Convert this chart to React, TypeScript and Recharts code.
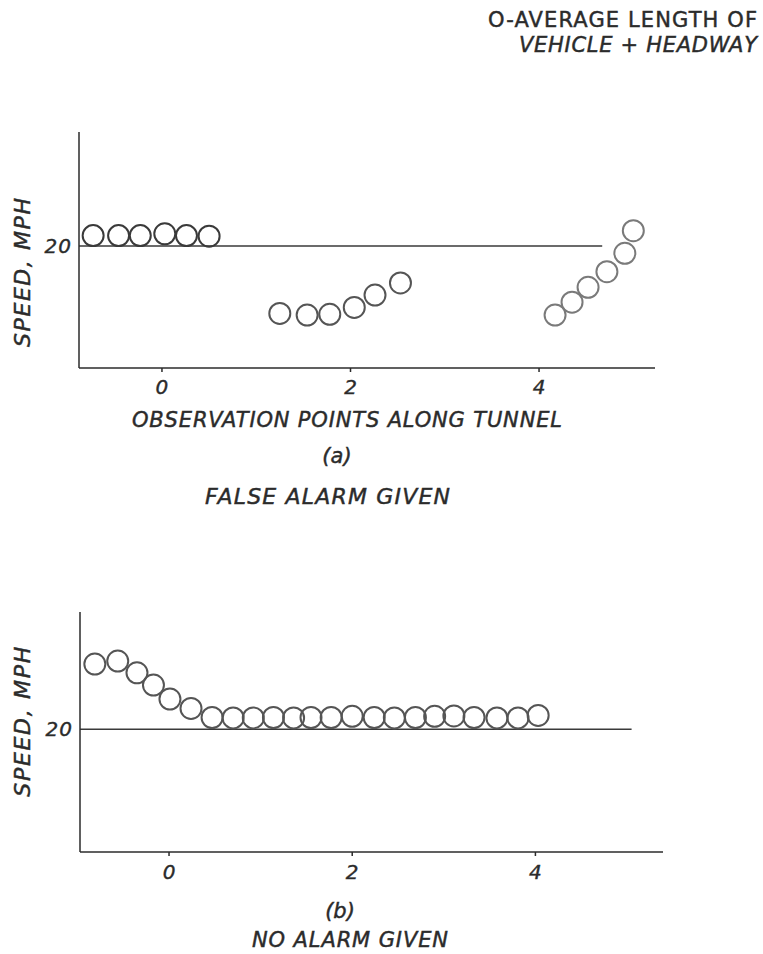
import { ScatterChart, Scatter, XAxis, YAxis, ReferenceLine } from 'recharts';

// (a) false alarm given: three bunches of readings along the tunnel
const entryPoints = [-0.73, -0.46, -0.23, 0.03, 0.26, 0.5];
const entrySpeed = [20.85, 20.85, 20.85, 21.0, 20.85, 20.8];
const middlePoints = [1.25, 1.54, 1.78, 2.04, 2.26, 2.53];
const middleSpeed = [14.47, 14.34, 14.4, 14.96, 15.98, 16.97];
const exitPoints = [4.17, 4.35, 4.52, 4.72, 4.91, 5.0];
const exitSpeed = [14.34, 15.39, 16.61, 17.89, 19.4, 21.25];

// (b) no alarm given
const noAlarmPoints = [
  -0.81, -0.56, -0.35, -0.17, 0.01, 0.24, 0.47, 0.7, 0.92, 1.14, 1.36, 1.55,
  1.77, 2.0, 2.24, 2.46, 2.69, 2.9, 3.11, 3.33, 3.58, 3.81, 4.03,
];
const noAlarmSpeed = [
  25.3, 25.55, 24.59, 23.59, 22.45, 21.69, 20.95, 20.92, 20.92, 20.95, 20.92, 20.95,
  20.95, 21.05, 20.95, 20.92, 20.95, 21.05, 21.08, 20.95, 20.92, 20.92, 21.12,
];

const xTicks = [0, 2, 4];
const speedTicks = [20];

const INK = '#2b2b2b';
const FONT = '"DejaVu Sans", sans-serif';

const zip = (xs: number[], ys: number[]) => xs.map((x, i) => ({ x, y: ys[i] }));

const ring = (stroke: string) => (p: any) => (
  <circle cx={p.cx} cy={p.cy} r={10.5} fill="none" stroke={stroke} strokeWidth={2} />
);

const speedTick = (p: any) => (
  <text x={p.x} y={p.y + 7} textAnchor="end" fontSize={20} fontStyle="italic" fill={INK}
    stroke={INK} strokeWidth={0.4} letterSpacing={1}>
    {p.payload.value}
  </text>
);

type Group = { data: { x: number; y: number }[]; stroke: string };

type PanelProps = {
  top: number;
  height: number;
  margin: { top: number; right: number; bottom: number; left: number };
  axisWidth: number;
  xDomain: [number, number];
  yDomain: [number, number];
  lineEnd: number;
  tickMargin: number;
  groups: Group[];
};

function Panel({ top, height, margin, axisWidth, xDomain, yDomain, lineEnd, tickMargin, groups }: PanelProps) {
  return (
    <div style={{ position: 'absolute', left: 0, top, width: 763, height }}>
      <ScatterChart width={763} height={height} margin={margin}>
        <XAxis
          type="number"
          dataKey="x"
          domain={xDomain}
          allowDataOverflow
          ticks={xTicks}
          height={30}
          tickSize={4}
          tickMargin={tickMargin}
          axisLine={{ stroke: INK, strokeWidth: 1.5 }}
          tickLine={{ stroke: INK, strokeWidth: 1.5 }}
          tick={{ fill: INK, stroke: INK, strokeWidth: 0.4, fontSize: 20, fontStyle: 'italic', fontFamily: FONT }}
        />
        <YAxis
          type="number"
          dataKey="y"
          domain={yDomain}
          allowDataOverflow
          ticks={speedTicks}
          width={axisWidth}
          tickLine={false}
          tickSize={0}
          tickMargin={7}
          axisLine={{ stroke: INK, strokeWidth: 1.5 }}
          tick={speedTick}
        />
        <ReferenceLine
          segment={[{ x: xDomain[0], y: 20 }, { x: lineEnd, y: 20 }]}
          stroke="#3a3a3a"
          strokeWidth={1.5}
        />
        {groups.map((g, i) => (
          <Scatter key={i} data={g.data} shape={ring(g.stroke)} isAnimationActive={false} />
        ))}
      </ScatterChart>
    </div>
  );
}

export default function App() {
  const text = { fill: INK, stroke: INK, strokeWidth: 0.45, fontFamily: FONT, fontStyle: 'italic' as const };
  return (
    <div style={{ position: 'absolute', left: 0, top: 0, width: 763, height: 954, background: '#fff', fontFamily: FONT }}>
      <Panel
        top={0}
        height={400}
        margin={{ top: 132, right: 108, bottom: 2, left: 0 }}
        axisWidth={79}
        xDomain={[-0.88, 5.23]}
        yDomain={[10, 29.34]}
        lineEnd={4.67}
        tickMargin={8}
        groups={[
          { data: zip(entryPoints, entrySpeed), stroke: '#3a3a3a' },
          { data: zip(middlePoints, middleSpeed), stroke: '#555' },
          { data: zip(exitPoints, exitSpeed), stroke: '#7a7a7a' },
        ]}
      />
      <Panel
        top={450}
        height={440}
        margin={{ top: 162, right: 100, bottom: 8, left: 0 }}
        axisWidth={80}
        xDomain={[-0.972, 5.393]}
        yDomain={[10, 29.54]}
        lineEnd={5.05}
        tickMargin={9}
        groups={[{ data: zip(noAlarmPoints, noAlarmSpeed), stroke: '#555' }]}
      />
      {/* titles, key and captions */}
      <svg width={763} height={954} style={{ position: 'absolute', left: 0, top: 0, pointerEvents: 'none' }}>
        <text x={488} y={27} fontSize={21} textLength={269} lengthAdjust="spacing" {...text} fontStyle="normal">
          O-AVERAGE LENGTH OF
        </text>
        <text x={519} y={52} fontSize={21} textLength={238} lengthAdjust="spacing" {...text}>
          VEHICLE + HEADWAY
        </text>
        <text transform="translate(30,272.5) rotate(-90)" textAnchor="middle" fontSize={22}
          textLength={149} lengthAdjust="spacing" {...text}>
          SPEED, MPH
        </text>
        <text transform="translate(30,721.7) rotate(-90)" textAnchor="middle" fontSize={22}
          textLength={150} lengthAdjust="spacing" {...text}>
          SPEED, MPH
        </text>
        <text x={132} y={427} fontSize={21} textLength={430} lengthAdjust="spacing" {...text}>
          OBSERVATION POINTS ALONG TUNNEL
        </text>
        <text x={337} y={463} fontSize={21} textAnchor="middle" {...text}>(a)</text>
        <text x={205} y={504} fontSize={22} textLength={245} lengthAdjust="spacing" {...text}>
          FALSE ALARM GIVEN
        </text>
        <text x={340} y={918} fontSize={21} textAnchor="middle" {...text}>(b)</text>
        <text x={252} y={947} fontSize={21} textLength={196} lengthAdjust="spacing" {...text}>
          NO ALARM GIVEN
        </text>
      </svg>
    </div>
  );
}
